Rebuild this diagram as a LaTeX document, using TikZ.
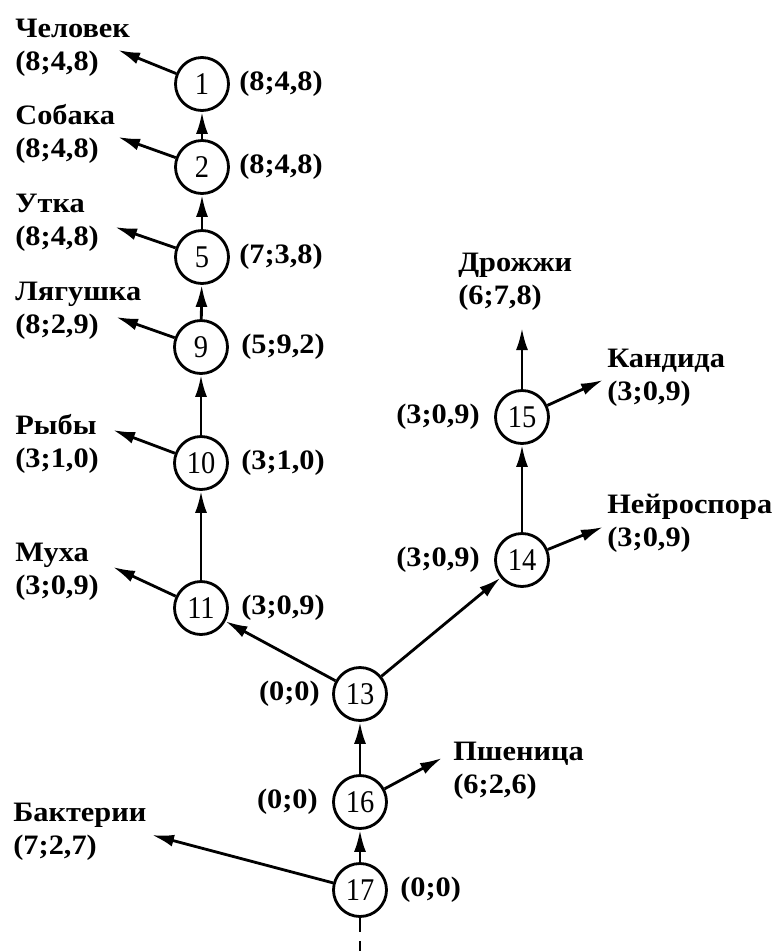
\documentclass[tikz,border=0pt]{standalone}
\usepackage{fontspec}
\setmainfont[FakeStretch=1.08]{Liberation Serif}
\newfontfamily\numfont[FakeStretch=0.9]{Liberation Serif}
\usetikzlibrary{
    arrows.meta,
    positioning
}

\begin{document}
\begin{tikzpicture}[x=0.02cm,y=-0.02cm,
    vertex/.style={circle,draw,line width=1.6pt,minimum size=1.06cm,inner sep=0pt,
        font=\numfont\fontsize{18}{20}\selectfont},
    taxon/.style={align=left,anchor=west,inner sep=0pt,
        font=\fontsize{16}{18.8}\selectfont\bfseries},
    score/.style={inner sep=0pt,font=\fontsize{16}{19}\selectfont\bfseries},
    edge/.style={line width=1.6pt,-{Latex[length=4.4mm,width=2.4mm]}}
]
\useasboundingbox (0,0) rectangle (783,951);

% Tree nodes
\node[vertex] (n1) at (202,84) {1};
\node[vertex] (n2) at (202,167) {2};
\node[vertex] (n5) at (202,257) {5};
\node[vertex] (n9) at (201,347) {9};
\node[vertex] (n10) at (201,463) {10};
\node[vertex] (n11) at (201,608) {11};
\node[vertex] (n13) at (360,694) {13};
\node[vertex] (n14) at (522,560) {14};
\node[vertex] (n15) at (522,417) {15};
\node[vertex] (n16) at (360,802) {16};
\node[vertex] (n17) at (360,890) {17};

% Distances next to the nodes
\node[score, right=0.18cm of n1] (s1) {(8;4,8)};
\node[score, right=0.18cm of n2] (s2) {(8;4,8)};
\node[score, right=0.18cm of n5] (s5) {(7;3,8)};
\node[score, right=0.24cm of n9] (s9) {(5;9,2)};
\node[score, right=0.24cm of n10] (s10) {(3;1,0)};
\node[score, right=0.24cm of n11] (s11) {(3;0,9)};
\node[score, left=0.24cm of n13] (s13) {(0;0)};
\node[score, left=0.28cm of n14] (s14) {(3;0,9)};
\node[score, left=0.28cm of n15] (s15) {(3;0,9)};
\node[score, left=0.28cm of n16] (s16) {(0;0)};
\node[score, right=0.24cm of n17] (s17) {(0;0)};

% Species
\node[taxon] (man) at (15,48) {Человек\\(8;4,8)};
\node[taxon] (dog) at (15,134) {Собака\\(8;4,8)};
\node[taxon] (duck) at (15,223) {Утка\\(8;4,8)};
\node[taxon] (frog) at (15,311) {Лягушка\\(8;2,9)};
\node[taxon] (fish) at (15,444) {Рыбы\\(3;1,0)};
\node[taxon] (fly) at (15,572) {Муха\\(3;0,9)};
\node[taxon] (bact) at (13,832) {Бактерии\\(7;2,7)};
\node[taxon] (yeast) at (458,282) {Дрожжи\\(6;7,8)};
\node[taxon] (cand) at (607,378) {Кандида\\(3;0,9)};
\node[taxon] (neur) at (607,523) {Нейроспора\\(3;0,9)};
\node[taxon] (wheat) at (453,771) {Пшеница\\(6;2,6)};

% Arrow ends
\coordinate (tman) at (118,50);
\coordinate (tdog) at (118,137);
\coordinate (tduck) at (115,227);
\coordinate (tfrog) at (116,317);
\coordinate (tfish) at (113,430);
\coordinate (tfly) at (113,567);
\coordinate (tbact) at (152,835);
\coordinate (tyeast) at (522,328);
\coordinate (tcand) at (603,380);
\coordinate (tneur) at (603,527);
\coordinate (twheat) at (442,758);
\coordinate (root) at (360,951);

% Branches
\draw[edge] (n2) -- (n1);
\draw[edge] (n5) -- (n2);
\draw[edge] (n9) -- (n5);
\draw[edge] (n10) -- (n9);
\draw[edge] (n11) -- (n10);
\draw[edge] (n13) -- (n11);
\draw[edge] (n13) -- (n14);
\draw[edge] (n14) -- (n15);
\draw[edge] (n16) -- (n13);
\draw[edge] (n17) -- (n16);

% Leaves
\draw[edge] (n1) -- (tman);
\draw[edge] (n2) -- (tdog);
\draw[edge] (n5) -- (tduck);
\draw[edge] (n9) -- (tfrog);
\draw[edge] (n10) -- (tfish);
\draw[edge] (n11) -- (tfly);
\draw[edge] (n17) -- (tbact);
\draw[edge] (n15) -- (tyeast);
\draw[edge] (n15) -- (tcand);
\draw[edge] (n14) -- (tneur);
\draw[edge] (n16) -- (twheat);

% Root
\draw[line width=1.6pt,dash pattern=on 8pt off 5pt] (n17) -- (root);

\end{tikzpicture}
\end{document}
